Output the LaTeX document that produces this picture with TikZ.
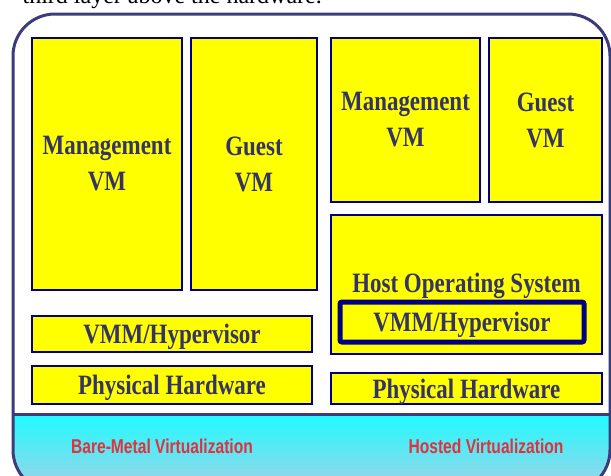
\documentclass[tikz,border=0pt]{standalone}
\usepackage{fontspec}
\setmainfont{Liberation Serif}
\newfontfamily\boxfont[FakeStretch=0.82]{Liberation Serif}
\newfontfamily\labelfont[FakeStretch=0.78]{Liberation Sans}
\definecolor{boxyellow}{HTML}{FFFF00}
\definecolor{boxline}{HTML}{000080}
\definecolor{boxtext}{HTML}{333366}
\definecolor{frameline}{HTML}{3C3C7C}
\definecolor{labelred}{HTML}{E0313F}
\definecolor{seatop}{HTML}{1FFBFF}
\definecolor{seabottom}{HTML}{A0D2E6}
\begin{document}
\begin{tikzpicture}[x=1pt,y=-1pt]
        \tikzstyle{layer} = [rectangle, draw=boxline, line width=1.5pt, fill=boxyellow, text=boxtext, inner sep=0pt, align=center, font=\boxfont\bfseries\fontsize{28}{36}\selectfont]
        \tikzstyle{bar} = [layer, text depth=0pt]
        \tikzstyle{frame} = [draw=frameline, line width=3pt, rounded corners=42pt]
        \tikzstyle{kind} = [text=labelred, font=\labelfont\bfseries\fontsize{20}{22}\selectfont]

                \useasboundingbox (0,0) rectangle (611,475);
                \clip (0,0) rectangle (611,475);

                % caption line cut by the page edge
                \node (caption) [anchor=base east, inner sep=0pt, font=\fontsize{24}{26}\selectfont] at (322,3) {third layer above the hardware.};

                % outer frame with shaded footer
                \begin{scope}
                    \clip [rounded corners=42pt] (13,14) rectangle (610,492);
                    \shade [top color=seatop, bottom color=seabottom] (13,414) rectangle (610,488);
                \end{scope}
                \draw [frame] (13,14) rectangle (610,492);
                \coordinate (sepL) at (13,414);
                \coordinate (sepR) at (610,414);
                \draw [draw=frameline, line width=3pt] (sepL) -- (sepR);

                % bare-metal stack
                \node (mgmtL) [layer, minimum width=150pt, minimum height=252pt] at (107,164) {Management\\VM};
                \node (guestL) [layer, minimum width=126pt, minimum height=252pt] at (254,164) {Guest\\VM};
                \node (vmmL) [bar, minimum width=280pt, minimum height=36pt] at (172,334) {VMM/Hypervisor};
                \node (hwL) [bar, minimum width=280pt, minimum height=38pt] at (172,385) {Physical Hardware};

                % hosted stack
                \node (mgmtR) [layer, minimum width=149pt, minimum height=164pt] at (405.5,120) {Management\\VM};
                \node (guestR) [layer, minimum width=113pt, minimum height=164pt] at (545.5,120) {Guest\\VM};
                \node (hostos) [layer, minimum width=271pt, minimum height=139pt] at (466.5,284.5) {};
                \node (hosttext) [text=boxtext, inner sep=0pt, text depth=0pt, font=\boxfont\bfseries\fontsize{28}{36}\selectfont] at (466.5,283) {Host Operating System};
                \node (vmmR) [bar, line width=5pt, rounded corners=2pt, minimum width=244pt, minimum height=40pt] at (462,322) {VMM/Hypervisor};
                \node (hwR) [bar, minimum width=271pt, minimum height=31pt] at (466.5,388.5) {Physical Hardware};

                \node (bare) [kind] at (162,446) {Bare-Metal Virtualization};
                \node (hosted) [kind] at (486,446) {Hosted Virtualization};
    \end{tikzpicture}
\end{document}
